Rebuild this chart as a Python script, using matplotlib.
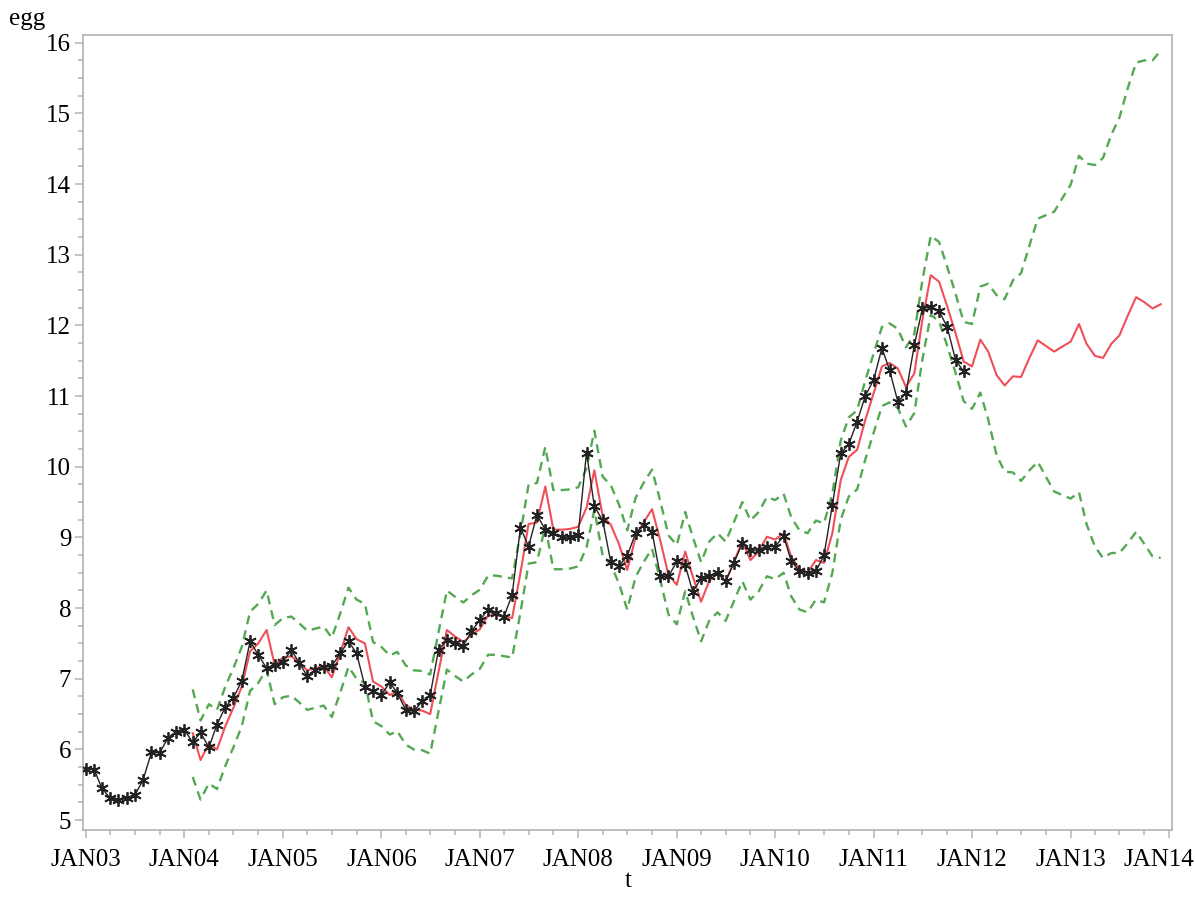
import numpy as np
import pandas as pd
import matplotlib
matplotlib.use('Agg')
import matplotlib.pyplot as plt
import matplotlib.dates as mdates
import matplotlib.transforms as mtrans
from matplotlib.ticker import MultipleLocator, FuncFormatter

# observed series: monthly, Jan 2003 .. Dec 2011
actual = [5.73, 5.71, 5.45, 5.31, 5.28, 5.31, 5.35, 5.57, 5.96, 5.95, 6.16, 6.25,
          6.28, 6.10, 6.24, 6.03, 6.35, 6.60, 6.73, 6.97, 7.53, 7.34, 7.15, 7.19,
          7.24, 7.41, 7.23, 7.04, 7.12, 7.16, 7.18, 7.36, 7.53, 7.36, 6.89, 6.82,
          6.77, 6.95, 6.80, 6.56, 6.54, 6.68, 6.77, 7.41, 7.55, 7.50, 7.47, 7.67,
          7.83, 7.98, 7.93, 7.88, 8.19, 9.14, 8.87, 9.32, 9.11, 9.06, 9.00, 9.00,
          9.04, 10.20, 9.44, 9.24, 8.65, 8.60, 8.74, 9.06, 9.18, 9.08, 8.45, 8.45,
          8.66, 8.61, 8.23, 8.42, 8.45, 8.50, 8.38, 8.64, 8.92, 8.82, 8.82, 8.87,
          8.87, 9.02, 8.67, 8.52, 8.50, 8.52, 8.75, 9.46, 10.19, 10.32, 10.64, 11.00,
          11.23, 11.68, 11.37, 10.92, 11.04, 11.72, 12.24, 12.26, 12.20, 11.98, 11.51, 11.35]

# forecast: monthly, Feb 2004 .. Dec 2013
forecast = [6.23, 5.85, 6.08, 6.00, 6.33, 6.59, 6.89, 7.39, 7.50, 7.69, 7.20,
            7.30, 7.32, 7.23, 7.12, 7.15, 7.18, 7.02, 7.36, 7.73, 7.56, 7.50, 6.96,
            6.89, 6.77, 6.82, 6.63, 6.56, 6.55, 6.50, 7.10, 7.69, 7.60, 7.52, 7.62,
            7.70, 7.90, 7.90, 7.88, 7.86, 8.50, 9.19, 9.21, 9.72, 9.11, 9.11, 9.12,
            9.15, 9.42, 9.95, 9.30, 9.18, 8.90, 8.54, 9.00, 9.22, 9.40, 8.95, 8.47,
            8.33, 8.80, 8.45, 8.09, 8.38, 8.50, 8.38, 8.66, 8.94, 8.68, 8.80, 9.01,
            8.97, 9.06, 8.73, 8.54, 8.50, 8.68, 8.64, 9.06, 9.81, 10.14, 10.24, 10.66,
            11.04, 11.42, 11.47, 11.39, 11.13, 11.32, 12.08, 12.71, 12.62, 12.27, 11.89, 11.49,
            11.42, 11.80, 11.63, 11.30, 11.15, 11.28, 11.27, 11.54, 11.79, 11.71, 11.63, 11.70,
            11.77, 12.02, 11.74, 11.57, 11.54, 11.74, 11.86, 12.14, 12.40, 12.33, 12.24, 12.30]

# half width of the 95% band around the forecast (same months as forecast)
halfwidth = ([0.62] + [0.56] * 94 +
             [0.60, 0.75, 0.96, 1.13, 1.22, 1.36, 1.47, 1.59, 1.72, 1.85, 1.98, 2.10,
              2.22, 2.38, 2.55, 2.70, 2.83, 2.96, 3.08, 3.22, 3.32, 3.42, 3.51, 3.59])

actual_dates = pd.date_range('2003-01-01', periods=len(actual), freq='MS')
fc_dates = pd.date_range('2004-02-01', periods=len(forecast), freq='MS')
fc = np.array(forecast)
hw = np.array(halfwidth)
upper = fc + hw
lower = fc - hw

plt.rcParams['font.family'] = ['Liberation Serif', 'DejaVu Serif']

fig = plt.figure(figsize=(11.95, 9.0), dpi=100)
ax = fig.add_axes([83 / 1195, 1 - 830 / 900, (1172 - 83) / 1195, (830 - 35) / 900])

green = '#55a853'
red = '#ef4f57'
ax.plot(fc_dates, upper, color=green, lw=1.7, dashes=(3.8, 2.6), zorder=2)
ax.plot(fc_dates, lower, color=green, lw=1.7, dashes=(3.8, 2.6), zorder=2)
ax.plot(fc_dates, fc, color=red, lw=1.5, zorder=3)
ax.plot(actual_dates, actual, color='#222222', lw=1.0, marker=(6, 2, 0),
        markersize=9, markeredgewidth=1.3, zorder=4)

ax.set_xlim(pd.Timestamp('2002-12-21'), pd.Timestamp('2014-01-12'))
ax.set_ylim(4.86, 16.11)

ax.yaxis.set_major_locator(MultipleLocator(1))
ax.yaxis.set_minor_locator(MultipleLocator(0.25))
ax.xaxis.set_major_locator(mdates.YearLocator())
ax.xaxis.set_minor_locator(mdates.MonthLocator(bymonth=[4, 7, 10]))
ax.xaxis.set_major_formatter(FuncFormatter(
    lambda v, p: mdates.num2date(v).strftime('%b%y').upper()))

gray = '#b3b3b3'
for s in ax.spines.values():
    s.set_color(gray)
    s.set_linewidth(1.2)
ax.tick_params(which='major', direction='out', length=5.5, width=1.1, color=gray,
               labelsize=18, labelcolor='black')
ax.tick_params(which='minor', direction='out', length=3.5, width=1.1, color=gray)
ax.tick_params(axis='x', which='major', pad=8)
ax.tick_params(axis='y', which='major', pad=3)

labels = ax.get_xticklabels()
last = labels[-1]
last.set_horizontalalignment('right')
last.set_transform(last.get_transform() + mtrans.ScaledTranslation(25 / 100, 0, fig.dpi_scale_trans))

fig.text(9 / 1195, 1 - 25 / 900, 'egg', fontsize=18, va='baseline', ha='left')
fig.text(628 / 1195, 1 - 881 / 900, 't', fontsize=18, va='center', ha='center')

fig.savefig('out.png', dpi=100)
